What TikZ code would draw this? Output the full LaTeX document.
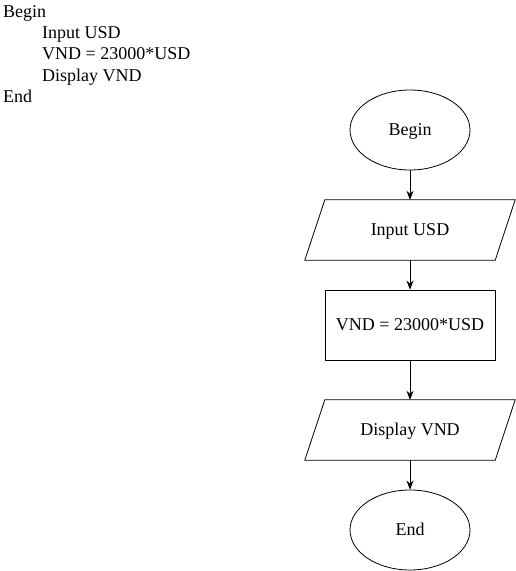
\documentclass[tikz,border=0pt]{standalone}
\usepackage{fontspec}
\setmainfont{Liberation Serif}
\usetikzlibrary{shapes.geometric,arrows.meta}
\begin{document}
\begin{tikzpicture}[x=1pt,y=-1pt,
  every node/.style={font=\fontsize{18}{21}\selectfont},
  fc/.style={text height=11pt,text depth=0pt},
  term/.style={fc,draw,ellipse,minimum width=120pt,minimum height=80pt,inner sep=0pt,line width=0.8pt},
  io/.style={fc,rectangle,minimum width=190pt,minimum height=60pt,inner sep=0pt},
  iobox/.style={line width=0.8pt},
  proc/.style={fc,draw,rectangle,minimum width=170pt,minimum height=70pt,inner sep=0pt,line width=0.8pt},
  flow/.style={-{Stealth[length=9pt,width=7pt]},line width=0.8pt},
  code/.style={anchor=base west,inner sep=0pt}]
\useasboundingbox[fill=white] (0,0) rectangle (516,571);
\node[code] (c1) at (3,17) {Begin};
\node[code] (c2) at (42,38) {Input USD};
\node[code] (c3) at (42,59) {VND = 23000*USD};
\node[code] (c4) at (42,81) {Display VND};
\node[code] (c5) at (3,102) {End};
\node[term] (b) at (410,130) {Begin};
\node[io] (i) at (410,230) {Input USD};
\draw[iobox] ([xshift=10pt]i.north west) -- ([xshift=10pt]i.north east) -- ([xshift=-10pt]i.south east) -- ([xshift=-10pt]i.south west) -- cycle;
\node[proc] (p) at (410,325) {VND = 23000*USD};
\node[io] (d) at (410,430) {Display VND};
\draw[iobox] ([xshift=10pt]d.north west) -- ([xshift=10pt]d.north east) -- ([xshift=-10pt]d.south east) -- ([xshift=-10pt]d.south west) -- cycle;
\node[term] (e) at (410,530) {End};
\draw[flow] (b) -- (i);
\draw[flow] (i) -- (p);
\draw[flow] (p) -- (d);
\draw[flow] (d) -- (e);
\end{tikzpicture}
\end{document}
